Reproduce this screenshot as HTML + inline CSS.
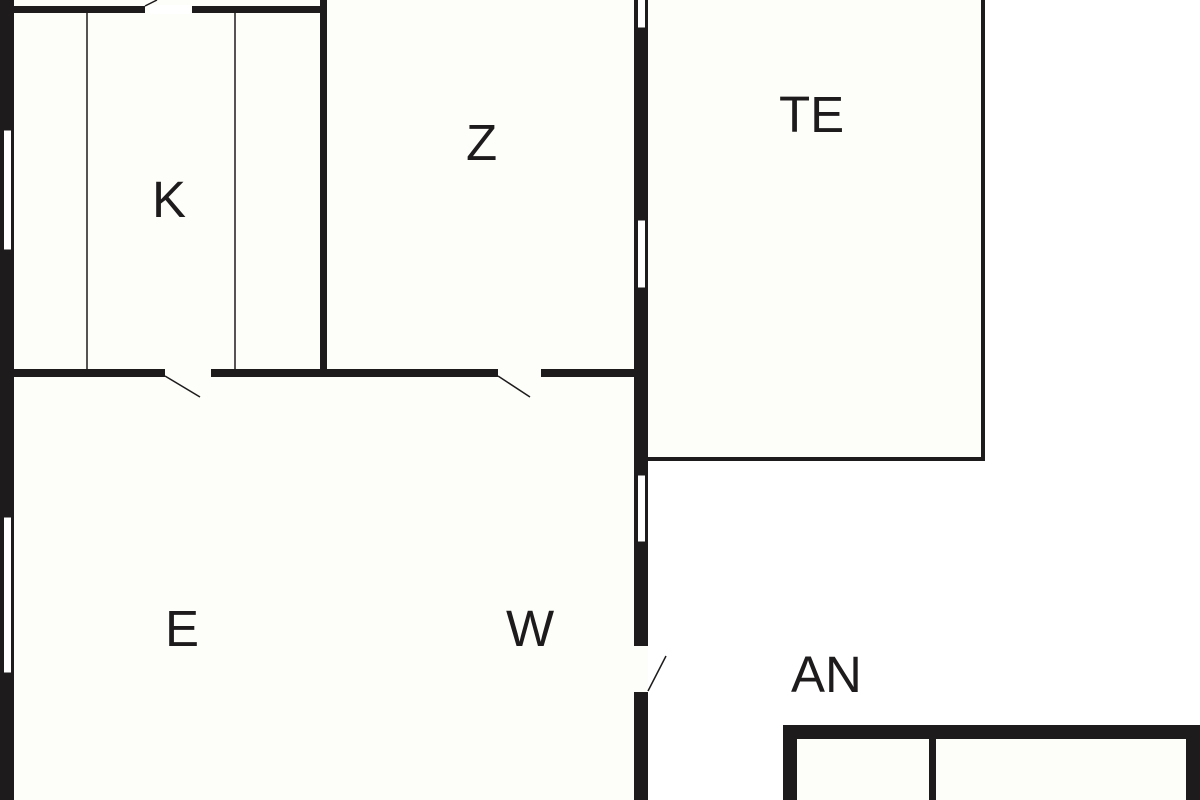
<!DOCTYPE html>
<html><head><style>
html,body{margin:0;padding:0;background:#fff;}
svg{display:block;}
text{font-family:"Liberation Sans",sans-serif;font-size:51px;fill:#1e1b1c;}
</style></head><body>
<svg width="1200" height="800" viewBox="0 0 1200 800">
<rect width="1200" height="800" fill="#ffffff"/>
<!-- interior fills -->
<rect x="0" y="0" width="642" height="800" fill="#fdfef9"/>
<rect x="642" y="0" width="342" height="460" fill="#fdfef9"/>
<rect x="790" y="735" width="410" height="65" fill="#fdfef9"/>
<g fill="#1e1b1c">
<!-- left outer wall -->
<rect x="0" y="0" width="14" height="800"/>
<!-- top wall -->
<rect x="14" y="6" width="131" height="7"/>
<rect x="192" y="6" width="130" height="7"/>
<!-- wall between K and Z -->
<rect x="320" y="0" width="7" height="377"/>
<!-- horizontal wall -->
<rect x="14" y="369" width="151" height="8"/>
<rect x="211" y="369" width="287" height="8"/>
<rect x="541" y="369" width="95" height="8"/>
<!-- central wall -->
<rect x="634" y="0" width="14" height="646"/>
<rect x="634" y="692" width="14" height="108"/>
<!-- TE box -->
<rect x="646" y="457" width="339" height="4"/>
<rect x="981" y="0" width="4" height="461"/>
<!-- bottom right box -->
<rect x="783" y="725" width="417" height="14"/>
<rect x="783" y="725" width="14" height="75"/>
<rect x="929" y="735" width="7" height="65"/>
<rect x="1186" y="725" width="14" height="75"/>
</g>
<!-- windows -->
<g fill="#fff" stroke="#1e1b1c" stroke-width="1">
<rect x="3.5" y="130" width="8" height="120"/>
<rect x="3.5" y="517" width="8" height="156"/>
<rect x="637.5" y="-2" width="8" height="30"/>
<rect x="637.5" y="220" width="8" height="68"/>
<rect x="637.5" y="475" width="8" height="67"/>
</g>
<rect x="634" y="646" width="14" height="46" fill="#fdfef9"/>
<rect x="150" y="5" width="40" height="9" fill="#fff"/>
<!-- thin lines -->
<g stroke="#1e1b1c" stroke-width="1.5" fill="none">
<line x1="87" y1="13" x2="87" y2="369"/>
<line x1="235" y1="13" x2="235" y2="369"/>
<line x1="165" y1="376" x2="200" y2="397"/>
<line x1="498" y1="376" x2="530" y2="397"/>
<line x1="648" y1="691" x2="666" y2="656"/>
<line x1="145" y1="6" x2="157" y2="0"/>
</g>
<text x="152" y="217">K</text>
<text x="466" y="160">Z</text>
<text x="779" y="132">TE</text>
<text x="165" y="646">E</text>
<text x="506" y="646">W</text>
<text x="791" y="692">AN</text>
</svg>
</body></html>
